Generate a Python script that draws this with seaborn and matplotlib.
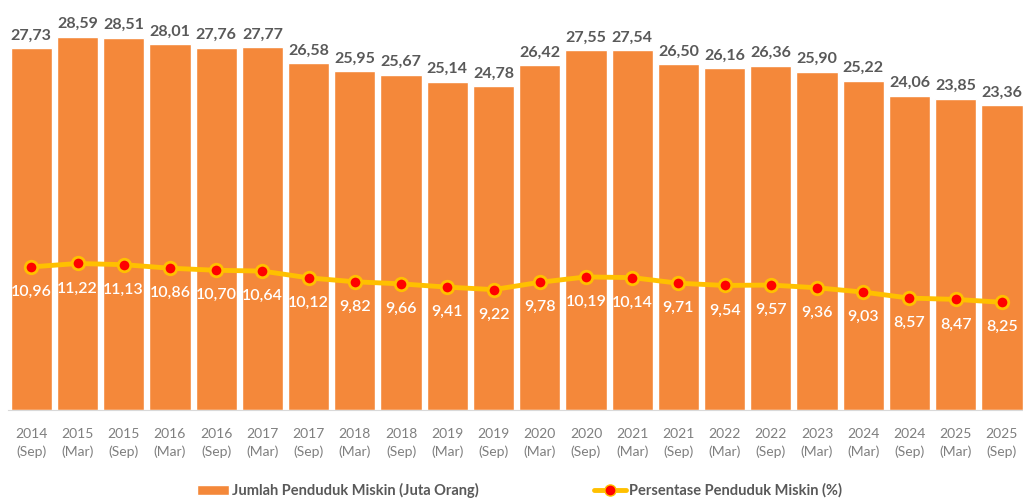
import numpy as np
import pandas as pd
import matplotlib
matplotlib.use("Agg")
import matplotlib.pyplot as plt
import seaborn as sns
from matplotlib.lines import Line2D
from matplotlib.patches import Patch

# Data
years = ["2014", "2015", "2015", "2016", "2016", "2017", "2017", "2018", "2018", "2019", "2019",
         "2020", "2020", "2021", "2021", "2022", "2022", "2023", "2024", "2024", "2025", "2025"]
periods = ["Sep", "Mar", "Sep", "Mar", "Sep", "Mar", "Sep", "Mar", "Sep", "Mar", "Sep",
           "Mar", "Sep", "Mar", "Sep", "Mar", "Sep", "Mar", "Mar", "Sep", "Mar", "Sep"]
jumlah = [27.73, 28.59, 28.51, 28.01, 27.76, 27.77, 26.58, 25.95, 25.67, 25.14, 24.78,
          26.42, 27.55, 27.54, 26.50, 26.16, 26.36, 25.90, 25.22, 24.06, 23.85, 23.36]
persen = [10.96, 11.22, 11.13, 10.86, 10.70, 10.64, 10.12, 9.82, 9.66, 9.41, 9.22,
          9.78, 10.19, 10.14, 9.71, 9.54, 9.57, 9.36, 9.03, 8.57, 8.47, 8.25]

labels = [f"{y}\n({p})" for y, p in zip(years, periods)]
df = pd.DataFrame({"label": labels, "jumlah": jumlah, "persen": persen, "pos": range(len(labels))})

def fmt(v):
    return f"{v:.2f}".replace(".", ",")

sns.set_style("white")
plt.rcParams["font.family"] = ["Lato", "DejaVu Sans"]

bar_color = "#F4883A"
line_color = "#FFC000"
text_dark = "#595959"

fig = plt.figure(figsize=(10.23, 5), dpi=100)
ax = fig.add_axes([0.008, 0.18, 0.994, 0.82])

sns.barplot(data=df, x="label", y="jumlah", color=bar_color, saturation=1, width=0.89, ax=ax)
sns.lineplot(data=df, x="pos", y="persen", color=line_color, linewidth=3.5, marker="o",
             markersize=9, markerfacecolor="red", markeredgecolor=line_color,
             markeredgewidth=2, ax=ax)

for i, v in enumerate(jumlah):
    ax.annotate(fmt(v), (i, v), xytext=(0, 4), textcoords="offset points",
                ha="center", va="bottom", fontsize=11.5, fontweight="bold", color=text_dark)
for i, v in enumerate(persen):
    ax.annotate(fmt(v), (i, v), xytext=(0, -13), textcoords="offset points",
                ha="center", va="top", fontsize=11.5, fontweight="semibold", color="white")

ax.set_xlim(-0.5, len(labels) - 0.5)
ax.set_ylim(0, 31.4)
ax.set_xlabel("")
ax.set_ylabel("")
ax.set_yticks([])
ax.tick_params(axis="x", labelsize=10, labelcolor="#7F7F7F", length=0, pad=13)
for t in ax.get_xticklabels():
    t.set_linespacing(1.55)
for s in ["top", "right", "left"]:
    ax.spines[s].set_visible(False)
ax.spines["bottom"].set_color("#D9D9D9")

handles = [Patch(facecolor=bar_color, label="Jumlah Penduduk Miskin (Juta Orang)"),
           Line2D([0], [0], color=line_color, linewidth=3.5, marker="o", markersize=8,
                  markerfacecolor="red", markeredgecolor=line_color,
                  label="Persentase Penduduk Miskin (%)")]
fig.legend(handles=handles, loc="lower center", bbox_to_anchor=(0.508, -0.022), ncol=2,
           frameon=False, columnspacing=7.9, handlelength=2.2, handletextpad=0.2,
           labelcolor=text_dark, prop={"weight": "bold", "size": 10.5})

fig.savefig("out.png", dpi=100)
